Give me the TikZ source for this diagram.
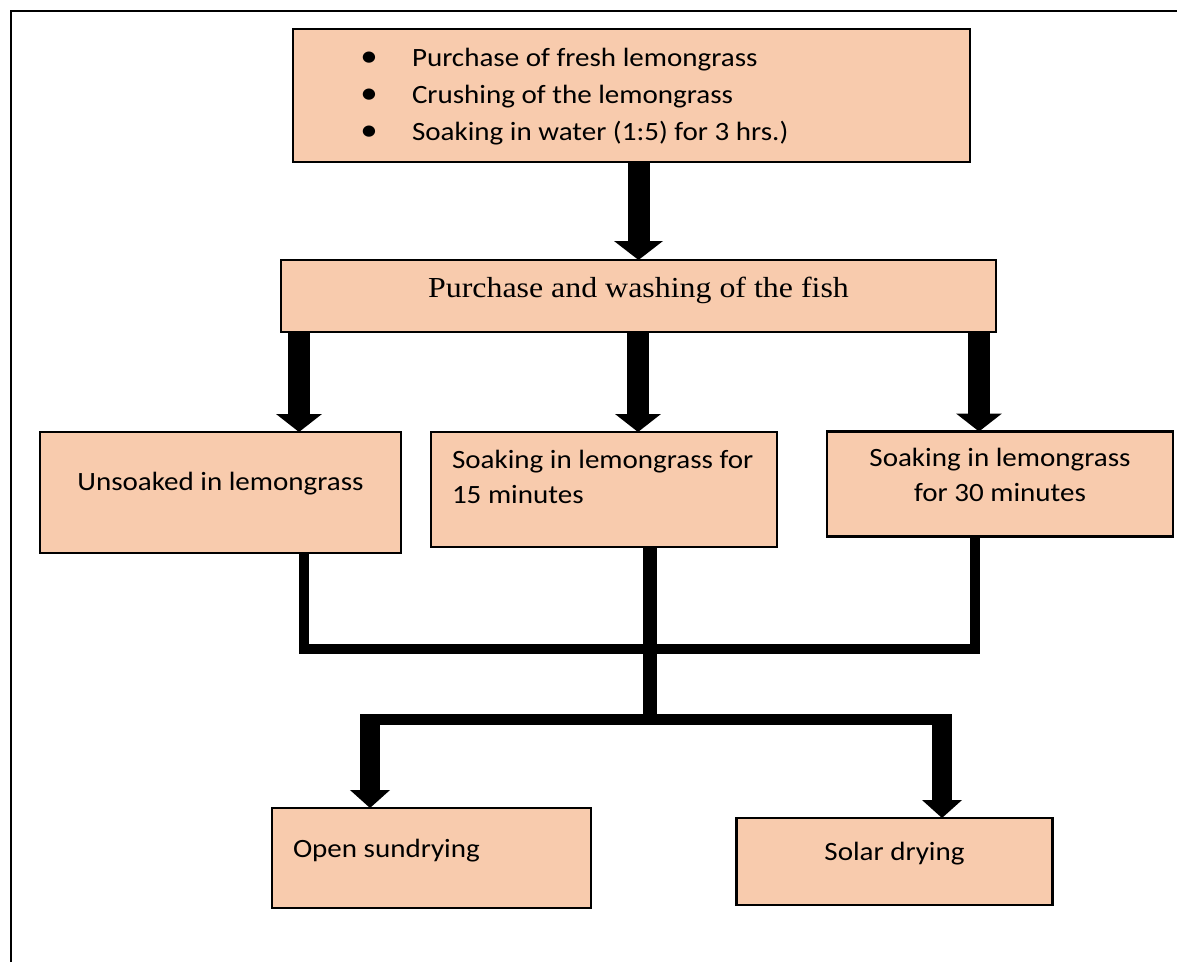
\documentclass[tikz,border=0pt]{standalone}
\usepackage{fontspec}
\setmainfont{Carlito}[FakeStretch=1.1]
\newfontfamily\timesf{Liberation Serif}[FakeStretch=1.1]
\usetikzlibrary{arrows.meta,calc}
\definecolor{boxfill}{HTML}{F8CBAD}
% centred text block: #1 raise of first baseline above node centre
\newcommand{\ctext}[2]{\raisebox{#1}[0pt][0pt]{\makebox[0pt][c]{\begin{tabular}[t]{@{}c@{}}#2\end{tabular}}}}
% left text block: #2 offset of left edge from node centre
\newcommand{\ltext}[3]{\raisebox{#1}[0pt][0pt]{\makebox[0pt][l]{\hspace*{#2}\begin{tabular}[t]{@{}l@{}}#3\end{tabular}}}}
\newcommand{\bul}{\makebox[86pt][c]{\scalebox{1.2}{\textbullet}}}
\begin{document}
\begin{tikzpicture}[x=1pt,y=-1pt,
  box/.style={draw=black,line width=2.5pt,fill=boxfill,inner sep=0pt,outer sep=0pt,
    font=\fontsize{26.4}{35}\selectfont},
  bigarrow/.style={line width=22pt,-{Triangle[width=48pt,length=19pt]}},
  midarrow/.style={line width=22pt,-{Triangle[width=45pt,length=18pt]}},
  lowarrow/.style={line width=20pt,-{Triangle[width=39pt,length=18pt]}},
  conn/.style={line width=10.5pt,line join=miter},
  frame/.style={line width=2pt,line cap=butt}]
\useasboundingbox (0,0) rectangle (1177,962);
% outer frame (only top and left edges visible)
\draw[frame] (11,962) -- (11,11) -- (1177,11);

% boxes
\node[box,minimum width=677pt,minimum height=133pt] (b1) at (631.5,95.5)
  {\fontsize{26.4}{37}\selectfont\ltext{29.5pt}{-305.5pt}{%
    \bul Purchase of fresh lemongrass\\
    \bul Crushing of the lemongrass\\
    \bul Soaking in water (1:5) for 3 hrs.)}};
\node[box,minimum width=715pt,minimum height=72pt] (b2) at (638.5,296)
  {\timesf\fontsize{29}{35}\selectfont\ctext{-1pt}{Purchase and washing of the fish}};
\node[box,minimum width=361pt,minimum height=121pt] (b3a) at (220.5,492.5)
  {\ctext{2.5pt}{Unsoaked in lemongrass}};
\node[box,minimum width=346pt,minimum height=115pt] (b3b) at (604,489.5)
  {\ltext{21.5pt}{-152pt}{Soaking in lemongrass for\\15 minutes}};
\node[box,minimum width=346pt,minimum height=105pt] (b3c) at (1000,484)
  {\ctext{18pt}{Soaking in lemongrass\\for 30 minutes}};
\node[box,minimum width=319pt,minimum height=100pt] (b4a) at (431.5,858)
  {\ltext{1pt}{-138.5pt}{Open sundrying}};
\node[box,minimum width=316pt,minimum height=87pt] (b4b) at (894.5,861.5)
  {\ctext{1.5pt}{Solar drying}};

% arrow positions
\coordinate (ax1) at (299,0);
\coordinate (ax2) at (638,0);
\coordinate (ax3) at (979,0);

\draw[bigarrow] (b1.south -| b2.north) -- (b2.north);
\draw[midarrow] (b2.south -| ax1) -- (b3a.north -| ax1);
\draw[midarrow] (b2.south -| ax2) -- (b3b.north -| ax2);
\draw[midarrow] (b2.south -| ax3) -- (b3c.north -| ax3);

% collecting lines
\coordinate (j1) at (304,649);
\coordinate (j2) at (975,649);
\draw[conn] (b3a.south -| j1) -- (j1) -- (j2) -- (b3c.south -| j2);
\coordinate (j3) at (650,725);
\draw[line width=14pt] (b3b.south -| j3) -- (j3);
\coordinate (j4) at (362,719);
\coordinate (j5) at (951,719);
\draw[line width=11pt] (j4) -- (j5);
\coordinate (ay1) at (370,714);
\coordinate (ay2) at (942,714);
\draw[lowarrow] (ay1) -- (b4a.north -| ay1);
\draw[lowarrow] (ay2) -- (b4b.north -| ay2);
\end{tikzpicture}
\end{document}
